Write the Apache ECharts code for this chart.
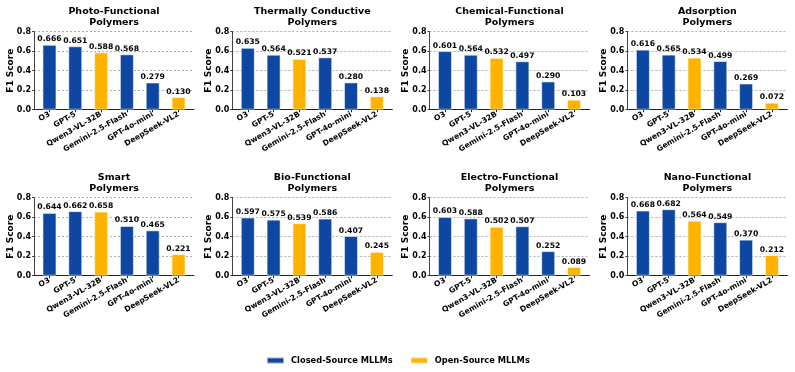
<!DOCTYPE html>
<html>
<head>
<meta charset="utf-8">
<script src="https://cdn.jsdelivr.net/npm/echarts@6/dist/echarts.min.js"></script>
<style>
  html, body { margin: 0; padding: 0; background: #fff; }
  #chart { width: 795px; height: 372px; }
</style>
</head>
<body>
<div id="chart"></div>
<script>
const MODELS = ["O3", "GPT-5", "Qwen3-VL-32B", "Gemini-2.5-Flash", "GPT-4o-mini", "DeepSeek-VL2"];
const OPEN_SOURCE = [false, false, true, false, false, true];
const TITLES = [
  "Photo-Functional\nPolymers", "Thermally Conductive\nPolymers",
  "Chemical-Functional\nPolymers", "Adsorption\nPolymers",
  "Smart\nPolymers", "Bio-Functional\nPolymers",
  "Electro-Functional\nPolymers", "Nano-Functional\nPolymers",
];
const PHOTO = [0.666, 0.651, 0.588, 0.568, 0.279, 0.130];
const THERMAL = [0.635, 0.564, 0.521, 0.537, 0.280, 0.138];
const CHEMICAL = [0.601, 0.564, 0.532, 0.497, 0.290, 0.103];
const ADSORPTION = [0.616, 0.565, 0.534, 0.499, 0.269, 0.072];
const SMART = [0.644, 0.662, 0.658, 0.510, 0.465, 0.221];
const BIO = [0.597, 0.575, 0.539, 0.586, 0.407, 0.245];
const ELECTRO = [0.603, 0.588, 0.502, 0.507, 0.252, 0.089];
const NANO = [0.668, 0.682, 0.564, 0.549, 0.370, 0.212];
const Y_TICKS = [0, 0.2, 0.4, 0.6, 0.8];

const PANELS = [PHOTO, THERMAL, CHEMICAL, ADSORPTION, SMART, BIO, ELECTRO, NANO];
const CLOSED_NAME = "Closed-Source MLLMs";
const OPEN_NAME = "Open-Source MLLMs";
const BLUE = "#0d47a1";
const ORANGE = "#ffb300";
const FONT = "DejaVu Sans";

const COL_LEFT = [34, 232.3, 429.5, 627.4];
const ROW_TOP = [31.7, 197.7];
const PLOT_W = 160;
const PLOT_H = 78;

const chart = echarts.init(document.getElementById("chart"), null, { renderer: "canvas" });

const grids = [];
const xAxes = [];
const yAxes = [];
const titles = [];
const series = [];
const modelIndexes = MODELS.map((_, i) => i);

PANELS.forEach((values, p) => {
  const left = COL_LEFT[p % 4];
  const top = ROW_TOP[Math.floor(p / 4)];

  grids.push({ left, top, width: PLOT_W, height: PLOT_H });

  titles.push({
    text: TITLES[p],
    left: left + PLOT_W / 2,
    top: top - 26,
    padding: 0,
    textAlign: "center",
    textStyle: { fontFamily: FONT, fontSize: 9.5, fontWeight: "bold", color: "#000", lineHeight: 11 },
  });

  xAxes.push({
    type: "value",
    gridIndex: p,
    min: -0.6,
    max: 5.6,
    splitLine: { show: false },
    axisLine: { onZero: false, lineStyle: { color: "#222", width: 1.1 } },
    axisTick: { customValues: modelIndexes, length: 2.5, lineStyle: { color: "#222" } },
    axisLabel: {
      customValues: modelIndexes,
      formatter: (v) => MODELS[v],
      rotate: 30,
      margin: 4,
      fontFamily: FONT,
      fontSize: 7.6,
      fontWeight: "bold",
      color: "#000",
    },
  });

  yAxes.push({
    type: "value",
    gridIndex: p,
    min: 0,
    max: 0.8,
    interval: 0.2,
    name: "F1 Score",
    nameLocation: "middle",
    nameGap: 19,
    nameMoveOverlap: false,
    nameTextStyle: { fontFamily: FONT, fontSize: 9, fontWeight: "bold", color: "#000" },
    axisLine: { show: true, onZero: false, lineStyle: { color: "#444", width: 1 } },
    axisTick: { show: true, length: 2, lineStyle: { color: "#444" } },
    axisLabel: {
      customValues: Y_TICKS,
      formatter: (v) => v.toFixed(1),
      margin: 3,
      fontFamily: FONT,
      fontSize: 8,
      fontWeight: "bold",
      color: "#000",
    },
    splitLine: { show: true, lineStyle: { color: "#9a9a9a", width: 0.8, type: [2, 2] } },
  });

  [false, true].forEach((isOpen) => {
    series.push({
      type: "bar",
      name: isOpen ? OPEN_NAME : CLOSED_NAME,
      xAxisIndex: p,
      yAxisIndex: p,
      barWidth: 14,
      barGap: "-100%",
      itemStyle: {
        color: isOpen ? ORANGE : BLUE,
        borderColor: "rgba(255,255,255,0.55)",
        borderWidth: 1,
      },
      label: {
        show: true,
        position: "top",
        distance: 1.5,
        formatter: (d) => d.value[1].toFixed(3),
        fontFamily: FONT,
        fontSize: 7.7,
        fontWeight: "bold",
        color: "#000",
      },
      data: values
        .map((v, i) => (OPEN_SOURCE[i] === isOpen ? [i, v] : null))
        .filter(Boolean),
    });
  });
});

chart.setOption({
  animation: false,
  backgroundColor: "#fff",
  title: titles,
  grid: grids,
  xAxis: xAxes,
  yAxis: yAxes,
  legend: {
    data: [CLOSED_NAME, OPEN_NAME],
    left: 266,
    top: 356.5,
    padding: 0,
    icon: "rect",
    itemWidth: 17,
    itemHeight: 6,
    itemGap: 17,
    textStyle: { fontFamily: FONT, fontSize: 8.3, fontWeight: "bold", color: "#000", padding: [0, 0, 0, 2] },
  },
  series,
});
</script>
</body>
</html>
